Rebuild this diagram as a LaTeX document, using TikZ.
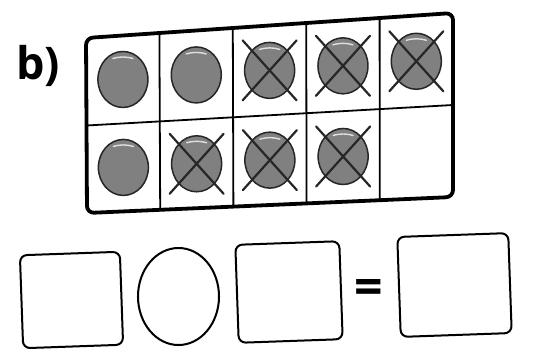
\documentclass[tikz,border=0pt]{standalone}
\usepackage{fontspec}
\setmainfont{Open Sans}
\usetikzlibrary{positioning, calc, shapes.geometric}

\begin{document}
\begin{tikzpicture}[
  x=1pt, y=-1pt,
  frame/.style={line width=3.8pt, rounded corners=7pt},
  divider/.style={line width=1.8pt},
  counter/.style={ellipse, draw=black!85, line width=1.5pt, fill=black!50,
                  minimum width=50pt, minimum height=56pt, inner sep=0pt},
  shine/.style={draw=black!12, line width=1.4pt, line cap=round},
  crossline/.style={draw=black!85, line width=2.2pt, line cap=round},
  blank/.style={rectangle, draw, line width=2pt, rounded corners=7pt,
                rotate=2, inner sep=0pt},
  oval/.style={ellipse, draw, line width=2pt, inner sep=0pt},
  big/.style={font=\fontsize{45}{45}\selectfont\bfseries}
]
  \useasboundingbox (0,0) rectangle (558,360);

  % Label
  \node[big, anchor=base west, inner sep=0pt] (lbl) at (16,79) {b)};

  % Ten frame
  \coordinate (tl) at (86,38);
  \coordinate (tr) at (453,13);
  \coordinate (br) at (453,197);
  \coordinate (bl) at (87,213);
  \foreach \u in {0.2,0.4,0.6,0.8}
    \draw[divider] ($(tl)!\u!(tr)$) -- ($(bl)!\u!(br)$);
  \draw[divider] ($(tl)!0.5!(bl)$) -- ($(tr)!0.5!(br)$);
  \draw[frame] (tl) -- (tr) -- (br) -- (bl) -- cycle;

  % Counters (col/row/crossed)
  \foreach \c/\r/\x in {1/1/0,2/1/0,3/1/1,4/1/1,5/1/1,1/2/0,2/2/1,3/2/1,4/2/1} {
    \coordinate (m) at ($($(tl)!{(\c-0.5)/5}!(tr)$)!{(\r-0.5)/2}!($(bl)!{(\c-0.5)/5}!(br)$)$);
    \node[counter] (c\c\r) at (m) {};
    \draw[shine] ($(c\c\r.center)+(-10,-21)$) to[bend left=15] ($(c\c\r.center)+(10,-21)$);
    \ifnum\x=1
      \draw[crossline] ($(c\c\r.center)+(-27,-30)$) -- ($(c\c\r.center)+(27,30)$);
      \draw[crossline] ($(c\c\r.center)+(27,-30)$) -- ($(c\c\r.center)+(-27,30)$);
    \fi
  }

  % Number sentence
  \node[blank, minimum width=100pt, minimum height=93pt] (box1) at (71.5,300) {};
  \node[oval, minimum width=81pt, minimum height=97pt] (op) at (178.5,296.5) {};
  \node[blank, minimum width=104pt, minimum height=98pt] (box2) at (289,292) {};
  \node[font=\fontsize{50}{50}\selectfont\bfseries, inner sep=0pt] (eq) at (369,291.5) {=};
  \node[blank, minimum width=111pt, minimum height=100pt] (box3) at (454.5,285) {};
\end{tikzpicture}
\end{document}
